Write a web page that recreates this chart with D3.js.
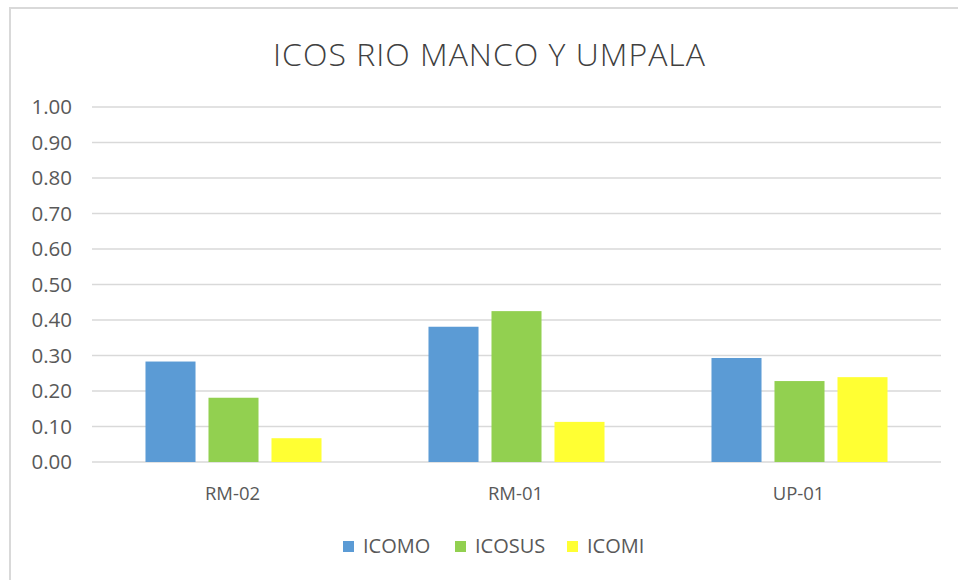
<!DOCTYPE html>
<html>
<head>
<meta charset="utf-8">
<script src="https://cdn.jsdelivr.net/npm/d3@7/dist/d3.min.js"></script>
<style>
html,body{margin:0;padding:0;background:#fff;}
svg{display:block;}
</style>
</head>
<body>
<svg id="chart" width="958" height="580"></svg>
<script>
const title = "ICOS RIO MANCO Y UMPALA";
const categories = ["RM-02", "RM-01", "UP-01"];
const seriesNames = ["ICOMO", "ICOSUS", "ICOMI"];
const icomo  = [0.283, 0.381, 0.293];
const icosus = [0.181, 0.425, 0.228];
const icomi  = [0.067, 0.113, 0.239];
const yTicks = [0,0.1,0.2,0.3,0.4,0.5,0.6,0.7,0.8,0.9,1.0];
const colors = ["#5b9bd5", "#92d050", "#ffff33"];

(function(){
const seriesValues = [icomo, icosus, icomi];
const svg = d3.select("#chart");
const font = "'Open Sans', 'Liberation Sans', sans-serif";

// frame
svg.append("rect").attr("x",10).attr("y",8).attr("width",960).attr("height",600)
  .attr("fill","#fff").attr("stroke","#d9d9d9").attr("stroke-width",2);

const pLeft = 92, pRight = 941, pTop = 107, pBottom = 462;
const y = d3.scaleLinear().domain([0,1]).range([pBottom, pTop]);
const x0 = d3.scaleBand().domain(categories).range([pLeft, pRight]).paddingInner(0).paddingOuter(0);
const groupW = 189;
const x1 = d3.scaleBand().domain(seriesNames).range([-groupW/2, groupW/2]).paddingInner(0.206).paddingOuter(0.103);

// grid
svg.append("g").selectAll("line").data(yTicks).join("line")
  .attr("x1", pLeft).attr("x2", pRight)
  .attr("y1", d => y(d)).attr("y2", d => y(d))
  .attr("stroke", "#d9d9d9").attr("stroke-width", 1.5);

// y axis labels
const yAxis = d3.axisLeft(y).tickValues(yTicks).tickFormat(d3.format(".2f")).tickSize(0).tickPadding(0);
const yg = svg.append("g").attr("transform", `translate(72,0)`).call(yAxis);
yg.select(".domain").remove();
yg.selectAll("text").attr("font-family", font).attr("font-size", 20.5).attr("fill", "#595959");

// bars
const data = [];
categories.forEach((c, i) => seriesNames.forEach((s, j) => data.push({c, s, v: seriesValues[j][i], j})));
svg.append("g").selectAll("rect").data(data).join("rect")
  .attr("x", d => x0(d.c) + x0.bandwidth()/2 + x1(d.s))
  .attr("width", x1.bandwidth())
  .attr("y", d => y(d.v))
  .attr("height", d => y(0) - y(d.v))
  .attr("fill", d => colors[d.j]);

// x axis labels
const xAxis = d3.axisBottom(x0).tickSize(0).tickPadding(0);
const xg = svg.append("g").attr("transform", `translate(-1,${pBottom+25})`).call(xAxis);
xg.select(".domain").remove();
xg.selectAll("text").attr("font-family", font).attr("font-size", 18.5).attr("fill", "#595959");

// title
svg.append("text").attr("x", 489).attr("y", 66).attr("text-anchor", "middle")
  .attr("font-family", font).attr("font-weight", 300).attr("font-size", 32).attr("fill", "#404040")
  .attr("textLength", 432).attr("lengthAdjust", "spacing")
  .text(title);

// legend
const legendX = [343, 455, 567];
const lg = svg.append("g").selectAll("g").data(seriesNames).join("g")
  .attr("transform", (d, i) => `translate(${legendX[i]},546)`);
lg.append("rect").attr("x", 0).attr("y", -5).attr("width", 11).attr("height", 11)
  .attr("fill", (d, i) => colors[i]);
lg.append("text").attr("x", 20).attr("y", 0).attr("dy", "0.35em")
  .attr("font-family", font).attr("font-size", 20).attr("fill", "#595959").text(d => d);
})();
</script>
</body>
</html>
